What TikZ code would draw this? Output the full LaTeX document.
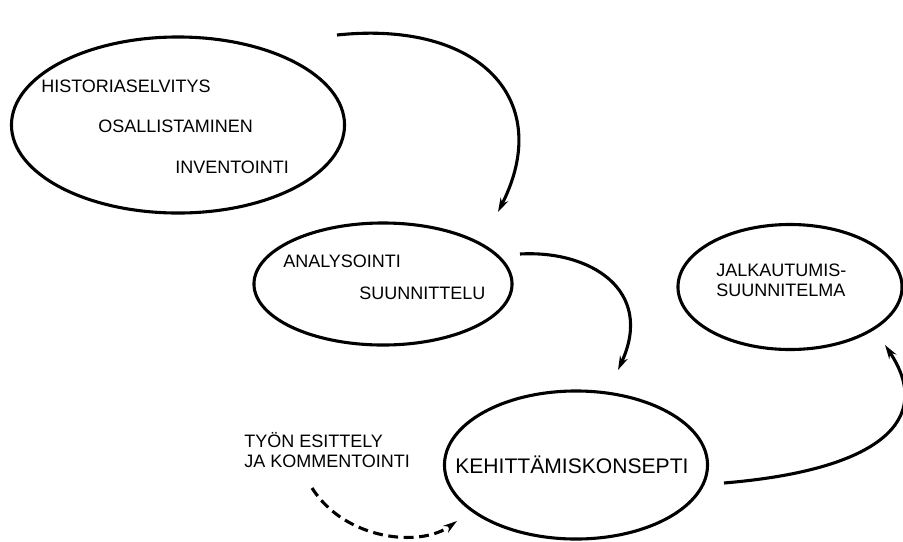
\documentclass[tikz,border=0pt]{standalone}
\usepackage{fontspec}
\setmainfont{Liberation Sans}
\usepackage{tikz}
\usetikzlibrary{shapes.geometric, arrows.meta}

\begin{document}
\begin{tikzpicture}[
        x=0.025cm, y=-0.025cm,
        phase/.style={ellipse, draw, line width=2.2pt, inner sep=0pt},
        txt/.style={inner sep=0pt, anchor=base west, align=left, font=\fontsize{12.8}{14.5}\selectfont},
        flow/.style={-{Stealth[length=10pt, width=6pt]}, line width=2.2pt},
        comment/.style={flow, dash pattern=on 7pt off 4pt}
    ]
        \useasboundingbox (0,0) rectangle (903,541);

        % Phases
        \node[phase, minimum width=8.325cm, minimum height=4.4cm] (hist) at (178,125) {};
        \node[phase, minimum width=6.45cm, minimum height=3.05cm] (anal) at (383,284) {};
        \node[phase, minimum width=5.6cm, minimum height=3.125cm] (jalk) at (790,287) {};
        \node[phase, minimum width=6.575cm, minimum height=3.7cm] (kehitt) at (576,465) {};

        % Texts
        \node[txt] (t-hist) at (41,92) {HISTORIASELVITYS};
        \node[txt] (t-osall) at (98,132) {OSALLISTAMINEN};
        \node[txt] (t-invent) at (175,173) {INVENTOINTI};
        \node[txt] (t-anal) at (283,267) {ANALYSOINTI};
        \node[txt] (t-suunn) at (359,299) {SUUNNITTELU};
        \node[txt, anchor=west] (t-jalk) at (716,280) {JALKAUTUMIS-\\SUUNNITELMA};
        \node[txt, font=\fontsize{15}{18}\selectfont] (t-kehitt) at (455,473) {KEHITTÄMISKONSEPTI};
        \node[txt, anchor=west] (t-comm) at (244,450) {TYÖN ESITTELY\\JA KOMMENTOINTI};

        % Connector ends
        \coordinate (hist-out) at (337,35);
        \coordinate (anal-in) at (498,212);
        \coordinate (anal-out) at (520,254);
        \coordinate (kehitt-in) at (618,370);
        \coordinate (kehitt-out) at (724,483);
        \coordinate (jalk-in) at (885,345);
        \coordinate (comm-out) at (312,488);
        \coordinate (comm-in) at (457,521);

        % Connections
        \draw[flow] (hist-out) .. controls (480,20) and (555,100) .. (anal-in);
        \draw[flow] (anal-out) .. controls (590,250) and (655,290) .. (kehitt-in);
        \draw[flow] (kehitt-out) .. controls (880,470) and (935,420) .. (jalk-in);
        \draw[comment] (comm-out) .. controls (345,540) and (420,548) .. (comm-in);
    \end{tikzpicture}
\end{document}
